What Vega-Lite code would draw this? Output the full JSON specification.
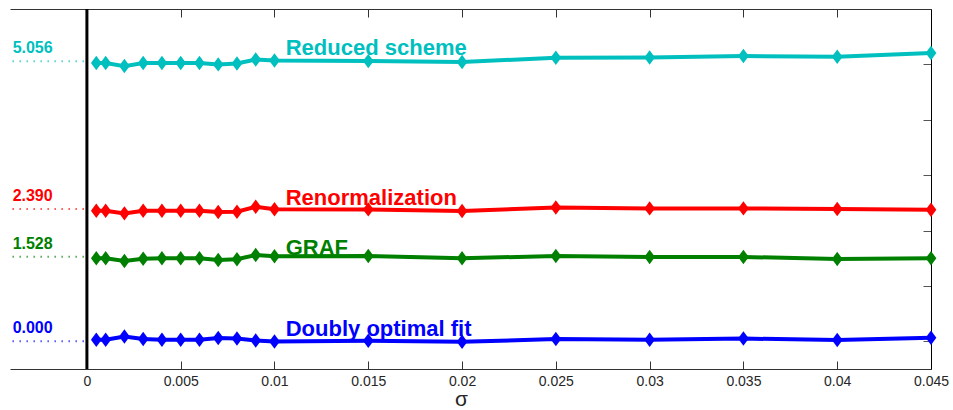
{
  "$schema": "https://vega.github.io/schema/vega-lite/v6.json",
  "width": 921,
  "height": 360,
  "autosize": {"type": "none"},
  "padding": {"left": 10, "top": 9, "right": 22, "bottom": 41},
  "config": {
    "view": {"stroke": null},
    "font": "Liberation Sans",
    "axis": {"grid": false, "labelFont": "Liberation Sans", "titleFont": "Liberation Sans"}
  },
  "datasets": {
    "series": [
      {"sigma": 0.0005, "value": 5.023, "method": "Reduced scheme"},
      {"sigma": 0.001, "value": 5.023, "method": "Reduced scheme"},
      {"sigma": 0.002, "value": 4.969, "method": "Reduced scheme"},
      {"sigma": 0.003, "value": 5.023, "method": "Reduced scheme"},
      {"sigma": 0.004, "value": 5.023, "method": "Reduced scheme"},
      {"sigma": 0.005, "value": 5.023, "method": "Reduced scheme"},
      {"sigma": 0.006, "value": 5.023, "method": "Reduced scheme"},
      {"sigma": 0.007, "value": 5.0, "method": "Reduced scheme"},
      {"sigma": 0.008, "value": 5.018, "method": "Reduced scheme"},
      {"sigma": 0.009, "value": 5.09, "method": "Reduced scheme"},
      {"sigma": 0.01, "value": 5.072, "method": "Reduced scheme"},
      {"sigma": 0.015, "value": 5.059, "method": "Reduced scheme"},
      {"sigma": 0.02, "value": 5.041, "method": "Reduced scheme"},
      {"sigma": 0.025, "value": 5.121, "method": "Reduced scheme"},
      {"sigma": 0.03, "value": 5.126, "method": "Reduced scheme"},
      {"sigma": 0.035, "value": 5.15, "method": "Reduced scheme"},
      {"sigma": 0.04, "value": 5.139, "method": "Reduced scheme"},
      {"sigma": 0.045, "value": 5.204, "method": "Reduced scheme"},
      {"sigma": 0.0005, "value": 2.357, "method": "Renormalization"},
      {"sigma": 0.001, "value": 2.357, "method": "Renormalization"},
      {"sigma": 0.002, "value": 2.31, "method": "Renormalization"},
      {"sigma": 0.003, "value": 2.357, "method": "Renormalization"},
      {"sigma": 0.004, "value": 2.357, "method": "Renormalization"},
      {"sigma": 0.005, "value": 2.357, "method": "Renormalization"},
      {"sigma": 0.006, "value": 2.357, "method": "Renormalization"},
      {"sigma": 0.007, "value": 2.333, "method": "Renormalization"},
      {"sigma": 0.008, "value": 2.339, "method": "Renormalization"},
      {"sigma": 0.009, "value": 2.429, "method": "Renormalization"},
      {"sigma": 0.01, "value": 2.384, "method": "Renormalization"},
      {"sigma": 0.015, "value": 2.382, "method": "Renormalization"},
      {"sigma": 0.02, "value": 2.351, "method": "Renormalization"},
      {"sigma": 0.025, "value": 2.418, "method": "Renormalization"},
      {"sigma": 0.03, "value": 2.4, "method": "Renormalization"},
      {"sigma": 0.035, "value": 2.4, "method": "Renormalization"},
      {"sigma": 0.04, "value": 2.387, "method": "Renormalization"},
      {"sigma": 0.045, "value": 2.375, "method": "Renormalization"},
      {"sigma": 0.0005, "value": 1.499, "method": "GRAF"},
      {"sigma": 0.001, "value": 1.499, "method": "GRAF"},
      {"sigma": 0.002, "value": 1.451, "method": "GRAF"},
      {"sigma": 0.003, "value": 1.492, "method": "GRAF"},
      {"sigma": 0.004, "value": 1.499, "method": "GRAF"},
      {"sigma": 0.005, "value": 1.499, "method": "GRAF"},
      {"sigma": 0.006, "value": 1.499, "method": "GRAF"},
      {"sigma": 0.007, "value": 1.468, "method": "GRAF"},
      {"sigma": 0.008, "value": 1.481, "method": "GRAF"},
      {"sigma": 0.009, "value": 1.559, "method": "GRAF"},
      {"sigma": 0.01, "value": 1.535, "method": "GRAF"},
      {"sigma": 0.015, "value": 1.541, "method": "GRAF"},
      {"sigma": 0.02, "value": 1.499, "method": "GRAF"},
      {"sigma": 0.025, "value": 1.541, "method": "GRAF"},
      {"sigma": 0.03, "value": 1.523, "method": "GRAF"},
      {"sigma": 0.035, "value": 1.523, "method": "GRAF"},
      {"sigma": 0.04, "value": 1.486, "method": "GRAF"},
      {"sigma": 0.045, "value": 1.499, "method": "GRAF"},
      {"sigma": 0.0005, "value": 0.027, "method": "Doubly optimal fit"},
      {"sigma": 0.001, "value": 0.027, "method": "Doubly optimal fit"},
      {"sigma": 0.002, "value": 0.086, "method": "Doubly optimal fit"},
      {"sigma": 0.003, "value": 0.04, "method": "Doubly optimal fit"},
      {"sigma": 0.004, "value": 0.027, "method": "Doubly optimal fit"},
      {"sigma": 0.005, "value": 0.027, "method": "Doubly optimal fit"},
      {"sigma": 0.006, "value": 0.027, "method": "Doubly optimal fit"},
      {"sigma": 0.007, "value": 0.058, "method": "Doubly optimal fit"},
      {"sigma": 0.008, "value": 0.05, "method": "Doubly optimal fit"},
      {"sigma": 0.009, "value": 0.014, "method": "Doubly optimal fit"},
      {"sigma": 0.01, "value": -0.005, "method": "Doubly optimal fit"},
      {"sigma": 0.015, "value": 0.009, "method": "Doubly optimal fit"},
      {"sigma": 0.02, "value": -0.009, "method": "Doubly optimal fit"},
      {"sigma": 0.025, "value": 0.04, "method": "Doubly optimal fit"},
      {"sigma": 0.03, "value": 0.027, "method": "Doubly optimal fit"},
      {"sigma": 0.035, "value": 0.05, "method": "Doubly optimal fit"},
      {"sigma": 0.04, "value": 0.022, "method": "Doubly optimal fit"},
      {"sigma": 0.045, "value": 0.063, "method": "Doubly optimal fit"}
    ],
    "names": [
      {"method": "Reduced scheme", "sigma": 0.0106, "value": 5.162},
      {"method": "Renormalization", "sigma": 0.0106, "value": 2.459},
      {"method": "GRAF", "sigma": 0.0106, "value": 1.559},
      {"method": "Doubly optimal fit", "sigma": 0.0106, "value": 0.104}
    ],
    "starts": [
      {"method": "Reduced scheme", "label": "5.056", "value": 5.056},
      {"method": "Renormalization", "label": "2.390", "value": 2.39},
      {"method": "GRAF", "label": "1.528", "value": 1.528},
      {"method": "Doubly optimal fit", "label": "0.000", "value": 0.0}
    ],
    "zero": [{"sigma": 0}]
  },
  "resolve": {"axis": {"x": "independent", "y": "independent"}},
  "layer": [
    {
      "data": {"name": "zero"},
      "mark": {"type": "rule", "color": "black", "strokeWidth": 3},
      "encoding": {
        "x": {
          "field": "sigma", "type": "quantitative",
          "scale": {"domain": [-0.0041, 0.045], "nice": false, "zero": false},
          "title": "σ",
          "axis": {
            "orient": "bottom",
            "values": [0, 0.005, 0.01, 0.015, 0.02, 0.025, 0.03, 0.035, 0.04, 0.045],
            "format": "~g",
            "tickSize": -8,
            "tickColor": "#333333",
            "domainColor": "#333333",
            "labelFontSize": 14,
            "labelColor": "#262626",
            "labelPadding": 13,
            "labelFlush": false,
            "labelOverlap": false,
            "titleFontSize": 21,
            "titleFontWeight": "normal",
            "titleColor": "#262626",
            "titleBaseline": "top",
            "titleX": 451,
            "titleY": 19
          }
        }
      }
    },
    {
      "data": {"name": "series"},
      "mark": {"type": "line", "strokeWidth": 4},
      "encoding": {
        "x": {
          "field": "sigma", "type": "quantitative",
          "axis": {
            "orient": "top",
            "values": [0, 0.005, 0.01, 0.015, 0.02, 0.025, 0.03, 0.035, 0.04, 0.045],
            "labels": false,
            "title": null,
            "tickSize": -8,
            "tickColor": "#333333",
            "domainColor": "#333333"
          }
        },
        "y": {
          "field": "value", "type": "quantitative",
          "scale": {"domain": [-0.5, 6], "nice": false, "zero": false},
          "axis": {
            "orient": "right",
            "values": [0, 1, 2, 3, 4, 5],
            "labels": false,
            "title": null,
            "tickSize": -8,
            "tickColor": "#555555",
            "domainColor": "#000000"
          }
        },
        "color": {
          "field": "method", "type": "nominal",
          "scale": {
            "domain": ["Reduced scheme", "Renormalization", "GRAF", "Doubly optimal fit"],
            "range": ["#00BFBF", "#FF0000", "#008000", "#0000FF"]
          },
          "legend": null
        }
      }
    },
    {
      "data": {"name": "series"},
      "mark": {"type": "point", "filled": true, "opacity": 1, "size": 115, "shape": "M0,-1.35L1,0L0,1.35L-1,0Z"},
      "encoding": {
        "x": {"field": "sigma", "type": "quantitative", "axis": null},
        "y": {"field": "value", "type": "quantitative", "axis": null},
        "color": {"field": "method", "type": "nominal", "legend": null}
      }
    },
    {
      "data": {"name": "names"},
      "mark": {"type": "text", "align": "left", "baseline": "alphabetic", "fontSize": 22, "fontWeight": "bold", "font": "Liberation Sans"},
      "encoding": {
        "x": {"field": "sigma", "type": "quantitative", "axis": null},
        "y": {"field": "value", "type": "quantitative", "axis": null},
        "text": {"field": "method"},
        "color": {"field": "method", "type": "nominal", "legend": null}
      }
    },
    {
      "data": {"name": "starts"},
      "mark": {"type": "rule", "strokeWidth": 2, "strokeDash": [1, 6]},
      "encoding": {
        "x": {"datum": -0.00396, "type": "quantitative", "axis": null},
        "x2": {"datum": -0.0001},
        "y": {"field": "value", "type": "quantitative", "axis": null},
        "color": {"field": "method", "type": "nominal", "legend": null}
      }
    },
    {
      "data": {"name": "starts"},
      "mark": {"type": "text", "align": "left", "baseline": "alphabetic", "dy": -8, "fontSize": 16, "fontWeight": "bold", "font": "Liberation Sans"},
      "encoding": {
        "x": {"datum": -0.00396, "type": "quantitative", "axis": null},
        "y": {"field": "value", "type": "quantitative", "axis": null},
        "text": {"field": "label"},
        "color": {"field": "method", "type": "nominal", "legend": null}
      }
    }
  ]
}
